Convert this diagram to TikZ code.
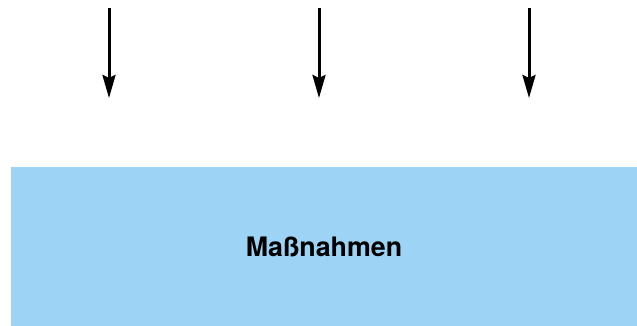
\documentclass[tikz,border=0pt]{standalone}
\usepackage{fontspec}
\setsansfont{TeX Gyre Heros}
\usetikzlibrary{arrows.meta,positioning}
\definecolor{massCol}{HTML}{9DD4F5}

\begin{document}
\begin{tikzpicture}[x=1pt,y=-1pt,font=\sffamily,
  box/.style={fill=#1,draw=none,minimum width=627pt,minimum height=159pt,
    inner sep=0pt,font=\bfseries\sffamily\fontsize{26.8}{32}\selectfont},
  flow/.style={-{Stealth[length=23pt,width=13pt,inset=3pt]},line width=3pt},
]
\useasboundingbox (0,0) rectangle (637,326);

\node[box=massCol] (massn) at (324,246.5) {Maßnahmen};

\coordinate (srcA) at (109,8);  \coordinate (tgtA) at (109,98);
\coordinate (srcB) at (319,8);  \coordinate (tgtB) at (319,98);
\coordinate (srcC) at (529,8);  \coordinate (tgtC) at (529,98);

\draw[flow] (srcA) -- (tgtA);
\draw[flow] (srcB) -- (tgtB);
\draw[flow] (srcC) -- (tgtC);

\end{tikzpicture}
\end{document}
